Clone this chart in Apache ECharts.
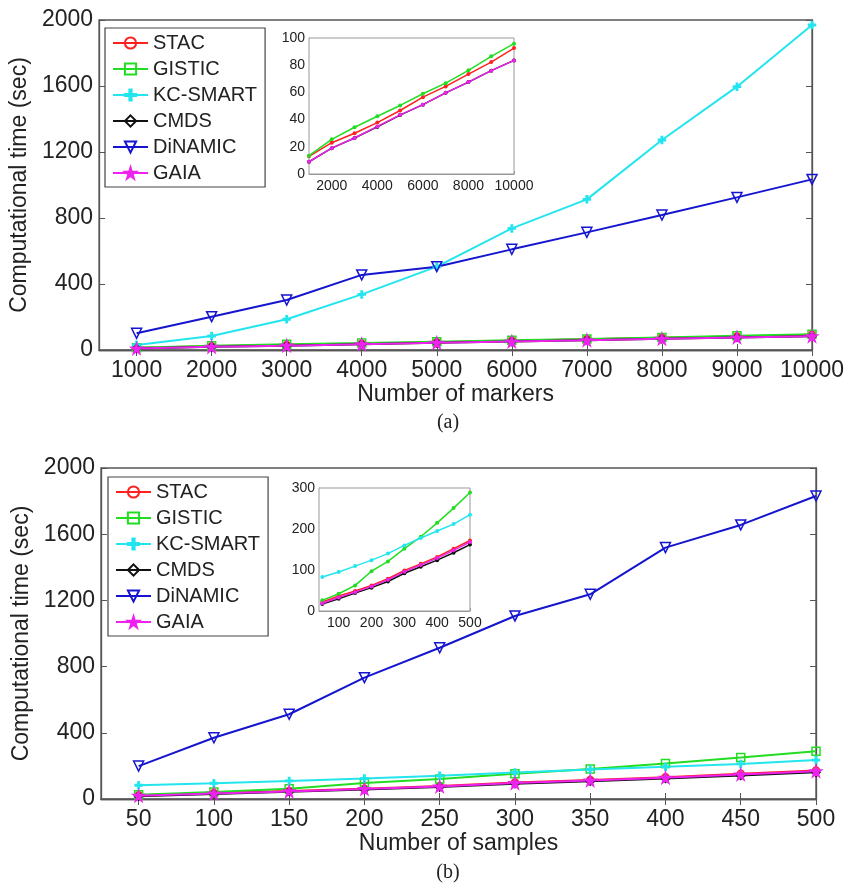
<!DOCTYPE html>
<html><head><meta charset="utf-8">
<script src="https://cdn.jsdelivr.net/npm/echarts@6/dist/echarts.min.js"></script>
<style>html,body{margin:0;padding:0;background:#fff}#c{width:847px;height:886px}</style>
</head><body><div id="c"></div>
<script>
// ---- data ----
const seriesNames = ['STAC','GISTIC','KC-SMART','CMDS','DiNAMIC','GAIA'];
const markersX = [1000,2000,3000,4000,5000,6000,7000,8000,9000,10000];
const samplesX = [50,100,150,200,250,300,350,400,450,500];

const A_STAC    = [13, 23, 30, 37.8, 46.7, 56.5, 64.4, 73.5, 82.3, 92.6];
const A_GISTIC  = [13.5, 25.5, 34.4, 42.5, 50.4, 59, 66.8, 76.2, 86.5, 95.8];
const A_KCSMART = [30, 85, 186, 337, 505, 737, 913, 1273, 1596, 1970];
const A_CMDS    = [9, 19, 26.5, 34.6, 43.3, 51, 59.7, 67.6, 76, 83.5];
const A_DINAMIC = [101, 202, 303, 455, 505, 610, 713, 818, 925, 1034];
const A_GAIA    = [9, 19, 26.5, 35, 43.5, 51, 59.7, 67.6, 76, 83.5];

const B_STAC    = [22, 36.5, 48.7, 62.4, 78.7, 99, 115, 132, 152, 172];
const B_GISTIC  = [26, 42, 62.4, 97, 121, 152, 181, 215, 251, 289];
const B_KCSMART = [83, 95, 109.5, 124, 140, 160, 178, 195, 212, 235];
const B_CMDS    = [17, 30, 44, 57, 72, 92, 108, 124, 142, 162];
const B_DINAMIC = [199, 370, 512, 733, 914, 1106, 1237, 1519, 1656, 1831];
const B_GAIA    = [19, 33, 46, 60, 76, 96, 112, 129, 148, 168];

const mainYTicks = [0,400,800,1200,1600,2000];
const aXTicks = [1000,2000,3000,4000,5000,6000,7000,8000,9000,10000];
const bXTicks = [50,100,150,200,250,300,350,400,450,500];
const aInsetXTicks = [2000,4000,6000,8000,10000];
const bInsetXTicks = [100,200,300,400,500];

// ---- styles ----
const FONT = 'Liberation Sans, Arial, sans-serif';
const plain = v => String(v);
const colors = {'STAC':'#ff2020','GISTIC':'#22dd22','KC-SMART':'#22e5ee','CMDS':'#111111','DiNAMIC':'#1515d0','GAIA':'#ee22ee'};
const STAR = 'path://M50,0 L61,35 L98,35 L68,57 L79,91 L50,70 L21,91 L32,57 L2,35 L39,35 Z';
const PLUS = 'path://M4,0H6V4H10V6H6V10H4V6H0V4H4Z';
const symbols = {
  'STAC':{symbol:'circle',size:7,open:true},
  'GISTIC':{symbol:'rect',size:8,open:true},
  'KC-SMART':{symbol:PLUS,size:7,open:false},
  'CMDS':{symbol:'diamond',size:8,open:true},
  'DiNAMIC':{symbol:'triangle',size:10,open:true,rotate:180},
  'GAIA':{symbol:STAR,size:11,open:false}
};
const pairs = (xs, ys) => xs.map((x,i)=>[x, ys[i]]);

function mainSeries(name, xs, ys, gi){
  const s = symbols[name], c = colors[name];
  return {
    name, type:'line', xAxisIndex:gi*2, yAxisIndex:gi*2, data:pairs(xs,ys),
    symbol:s.symbol, symbolSize:s.size, symbolRotate:s.rotate||0, showAllSymbol:true,
    lineStyle:{color:c, width:2},
    itemStyle:{color: s.open ? 'rgba(255,255,255,0)' : c, borderColor:c, borderWidth:1.5},
    emphasis:{disabled:true}, animation:false, z:3
  };
}
function insetSeries(name, xs, ys, axisIdx){
  const c = colors[name];
  return {
    name, type:'line', xAxisIndex:axisIdx, yAxisIndex:axisIdx, data:pairs(xs,ys),
    symbol:'circle', symbolSize:4, showAllSymbol:true,
    lineStyle:{color:c, width:1.5}, itemStyle:{color:c},
    emphasis:{disabled:true}, animation:false, z:5
  };
}

const axisLineStyle = {lineStyle:{color:'#555', width:1.3}};
function mainX(gi, min, max, ticks, name){
  return [
    {type:'value', gridIndex:gi, min, max, position:'bottom',
     name, nameLocation:'middle', nameGap:33,
     nameTextStyle:{fontFamily:FONT, fontSize:23, color:'#222'},
     axisLine:axisLineStyle, splitLine:{show:false},
     axisTick:{inside:true, length:6, customValues:ticks, lineStyle:{color:'#555'}},
     axisLabel:{customValues:ticks, formatter:plain, fontFamily:FONT, fontSize:23, color:'#222', margin:9}},
    {type:'value', gridIndex:gi, min, max, position:'top',
     axisLine:axisLineStyle, splitLine:{show:false},
     axisTick:{inside:true, length:6, customValues:ticks, lineStyle:{color:'#555'}},
     axisLabel:{show:false}}
  ];
}
function mainY(gi){
  return [
    {type:'value', gridIndex:gi, min:0, max:2000, interval:400, position:'left',
     name:'Computational time (sec)', nameLocation:'middle', nameGap:61,
     nameTextStyle:{fontFamily:FONT, fontSize:23, color:'#222'},
     axisLine:{show:true, ...axisLineStyle}, splitLine:{show:false},
     axisTick:{show:true, inside:true, length:6, lineStyle:{color:'#555'}},
     axisLabel:{customValues:mainYTicks, formatter:plain, fontFamily:FONT, fontSize:23, color:'#222', margin:6}},
    {type:'value', gridIndex:gi, min:0, max:2000, interval:400, position:'right',
     axisLine:{show:true, ...axisLineStyle}, splitLine:{show:false},
     axisTick:{show:true, inside:true, length:6, lineStyle:{color:'#555'}},
     axisLabel:{show:false}}
  ];
}
function insetAxes(gi, xmin, xmax, xint, xlabels, ymax, yint){
  return {
    x:{type:'value', gridIndex:gi, min:xmin, max:xmax, interval:xint, position:'bottom',
       axisLine:{lineStyle:{color:'#999', width:1}}, splitLine:{show:false},
       axisTick:{inside:true, length:3, customValues:xlabels, lineStyle:{color:'#999'}},
       axisLabel:{customValues:xlabels, formatter:plain, fontFamily:FONT, fontSize:14, color:'#222', margin:5}},
    y:{type:'value', gridIndex:gi, min:0, max:ymax, interval:yint, position:'left',
       axisLine:{show:true, lineStyle:{color:'#999', width:1}}, splitLine:{show:false},
       axisTick:{show:true, inside:true, length:3, lineStyle:{color:'#999'}},
       axisLabel:{formatter:plain, fontFamily:FONT, fontSize:14, color:'#222', margin:4}}
  };
}

const xa = mainX(0, 500, 10000, aXTicks, 'Number of markers');
const xb = mainX(1, 25, 500, bXTicks, 'Number of samples');
const ya = mainY(0), yb = mainY(1);
const ia = insetAxes(2, 1000, 10000, 1000, aInsetXTicks, 100, 20);
const ib = insetAxes(3, 40, 500, 20, bInsetXTicks, 300, 100);

const legendCommon = {
  orient:'vertical', data:seriesNames, itemWidth:35, itemHeight:14, itemGap:6,
  backgroundColor:'#fff', borderColor:'#444', borderWidth:1.2,
  padding:[5,8,4,7], selectedMode:false,
  textStyle:{fontFamily:FONT, fontSize:20, color:'#222', lineHeight:20}, z:10
};
const capFont = '20px "Liberation Serif", "Times New Roman", serif';

const option = {
  backgroundColor:'#fff',
  animation:false,
  grid:[
    {left:98, top:20, right:34, height:330, show:true, borderColor:'#555', borderWidth:1.3},
    {left:101, top:468, right:31, height:331, show:true, borderColor:'#555', borderWidth:1.3},
    {left:309, top:38, width:205, height:136, show:true, backgroundColor:'#fff', borderColor:'#999', borderWidth:1, z:4},
    {left:319, top:488, width:151, height:123, show:true, backgroundColor:'#fff', borderColor:'#999', borderWidth:1, z:4}
  ],
  xAxis:[xa[0], xa[1], xb[0], xb[1], ia.x, ib.x],
  yAxis:[ya[0], ya[1], yb[0], yb[1], ia.y, ib.y],
  legend:[
    {...legendCommon, left:105, top:28},
    {...legendCommon, left:108, top:477}
  ],
  graphic:[
    {type:'text', x:448, y:423, style:{text:'(a)', font:capFont, fill:'#222', textAlign:'center', textVerticalAlign:'middle'}},
    {type:'text', x:448, y:873, style:{text:'(b)', font:capFont, fill:'#222', textAlign:'center', textVerticalAlign:'middle'}}
  ],
  series:[]
};

const A = {'STAC':A_STAC,'GISTIC':A_GISTIC,'KC-SMART':A_KCSMART,'CMDS':A_CMDS,'DiNAMIC':A_DINAMIC,'GAIA':A_GAIA};
const B = {'STAC':B_STAC,'GISTIC':B_GISTIC,'KC-SMART':B_KCSMART,'CMDS':B_CMDS,'DiNAMIC':B_DINAMIC,'GAIA':B_GAIA};
seriesNames.forEach(n => option.series.push(mainSeries(n, markersX, A[n], 0)));
seriesNames.forEach(n => option.series.push(mainSeries(n, samplesX, B[n], 1)));
['CMDS','STAC','GISTIC','GAIA'].forEach(n => option.series.push(insetSeries(n, markersX, A[n], 4)));
['STAC','GISTIC','KC-SMART','CMDS','GAIA'].forEach(n => option.series.push(insetSeries(n, samplesX, B[n], 5)));

const chart = echarts.init(document.getElementById('c'), null, {renderer:'canvas'});
chart.setOption(option);
</script></body></html>
